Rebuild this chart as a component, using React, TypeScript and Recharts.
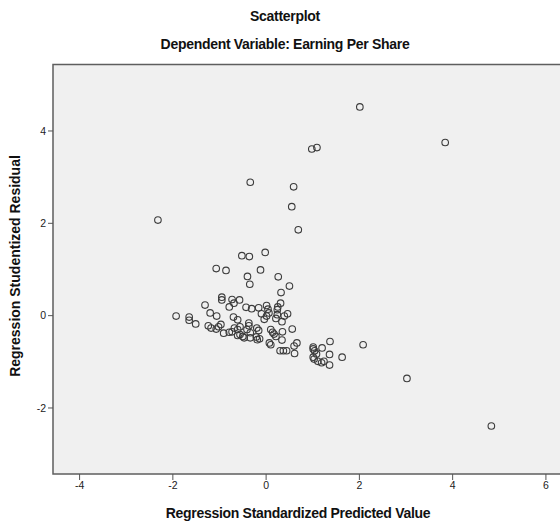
import { ReferenceArea, Scatter, ScatterChart, XAxis, YAxis } from "recharts";

// Regression Standardized Predicted Value
const predicted = [
  2.01, 3.84, 0.98, 1.09, 0.59, 0.55, 0.69, -0.34, -2.32, -0.52,
  -0.36, -0.02, -1.07, -0.86, -0.12, -0.4, 0.26, -0.35, 0.5, 0.32,
  -1.31, -0.95, -0.95, -0.73, -0.69, -0.57, -0.79, -1.2, -1.06, -1.93,
  -1.65, -1.65, -1.51, -1.24, -1.18, -1.07, -1.02, -0.97, -0.91, -0.79,
  -0.73, -0.7, -0.61, -0.68, -0.61, -0.56, -0.56, -0.5, -0.43, -0.31,
  -0.16, 0.01, 0.04, 0.25, 0.24, 0.31, -0.1, -0.37, -0.37, -0.41,
  -0.34, -0.2, -0.16, -0.21, -0.14, -0.04, 0.01, 0.06, 0.21, 0.24,
  0.39, 0.46, 0.34, 0.1, 0.14, 0.17, 0.21, 0.07, 0.1, 0.35,
  0.34, 0.3, 0.37, 0.44, 0.56, 0.6, 0.66, 0.61, 1.01, 1.04,
  1.2, 1.37, 1.36, 1.63, 1.03, 1.11, 1.19, 1.24, 1.36, -0.61,
  -0.47, -0.34, -0.19, 2.08, 3.02, 4.83, 1.01, 1.08, 1.01,
];

// Regression Studentized Residual
const residual = [
  4.52, 3.75, 3.61, 3.64, 2.79, 2.36, 1.86, 2.89, 2.07, 1.3,
  1.28, 1.37, 1.02, 0.98, 0.99, 0.85, 0.84, 0.68, 0.64, 0.5,
  0.23, 0.4, 0.34, 0.35, 0.27, 0.34, 0.19, 0.06, -0.01, -0.01,
  -0.03, -0.1, -0.18, -0.22, -0.27, -0.29, -0.24, -0.19, -0.38, -0.36,
  -0.35, -0.03, -0.09, -0.27, -0.3, -0.24, -0.41, -0.45, 0.18, 0.15,
  0.17, 0.22, 0.14, 0.19, 0.13, 0.27, 0.04, -0.16, -0.22, -0.3,
  -0.37, -0.27, -0.32, -0.46, -0.5, -0.08, -0.01, 0.06, -0.06, 0.02,
  -0.01, 0.04, -0.13, -0.3, -0.36, -0.4, -0.45, -0.59, -0.63, -0.35,
  -0.53, -0.76, -0.76, -0.76, -0.29, -0.66, -0.59, -0.82, -0.68, -0.76,
  -0.7, -0.56, -0.84, -0.9, -0.94, -0.99, -1.02, -0.99, -1.07, -0.43,
  -0.48, -0.48, -0.52, -0.63, -1.36, -2.39, -0.72, -0.83, -0.9,
];

const xTicks = [-4, -2, 0, 2, 4, 6];
const yTicks = [-2, 0, 2, 4];

const X_MIN = -4.57;
const X_MAX = 7.16;
const Y_MIN = -3.43;
const Y_MAX = 5.44;

const FONT = "'Liberation Sans', Arial, sans-serif";

const points = predicted.map((x, i) => ({ x, y: residual[i] }));

const Ring = (props: any) => (
  <circle cx={props.cx} cy={props.cy} r={3.3} fill="none" stroke="#3c3c3c" strokeWidth={1.1} />
);

const titleStyle = {
  position: "absolute" as const,
  left: 0,
  textAlign: "center" as const,
  fontSize: 14,
  letterSpacing: -0.3,
  fontWeight: "bold",
  color: "#111",
  whiteSpace: "nowrap" as const,
};

export default function App() {
  return (
    <div
      style={{
        position: "absolute",
        left: 0,
        top: 0,
        width: 560,
        height: 522,
        overflow: "hidden",
        background: "#fff",
        fontFamily: FONT,
      }}
    >
      <ScatterChart width={600} height={522} margin={{ top: 64.5, right: 0, bottom: 0, left: 0 }}>
        <ReferenceArea
          x1={X_MIN}
          x2={X_MAX}
          y1={Y_MIN}
          y2={Y_MAX}
          fill="#f0f0f0"
          fillOpacity={1}
          stroke="#5e5e5e"
          strokeWidth={1.5}
        />
        <XAxis
          type="number"
          dataKey="x"
          domain={[X_MIN, X_MAX]}
          ticks={xTicks}
          allowDataOverflow
          height={48}
          axisLine={false}
          tickLine={{ stroke: "#555" }}
          tickSize={6}
          tick={{ fontSize: 10.5, fill: "#222", fontFamily: FONT }}
        />
        <YAxis
          type="number"
          dataKey="y"
          domain={[Y_MIN, Y_MAX]}
          ticks={yTicks}
          allowDataOverflow
          width={53}
          axisLine={false}
          tickLine={{ stroke: "#555" }}
          tickSize={5}
          tick={{ fontSize: 10.5, fill: "#222", fontFamily: FONT }}
        />
        <Scatter data={points} shape={Ring} isAnimationActive={false} />
      </ScatterChart>

      <div style={{ ...titleStyle, top: 8, width: 570 }}>Scatterplot</div>
      <div style={{ ...titleStyle, top: 36, width: 570 }}>Dependent Variable: Earning Per Share</div>
      <div style={{ ...titleStyle, top: 505, width: 596 }}>Regression Standardized Predicted Value</div>
      <div
        style={{
          ...titleStyle,
          letterSpacing: 0,
          left: 15,
          top: 266,
          transform: "translate(-50%, -50%) rotate(-90deg)",
        }}
      >
        Regression Studentized Residual
      </div>
    </div>
  );
}
